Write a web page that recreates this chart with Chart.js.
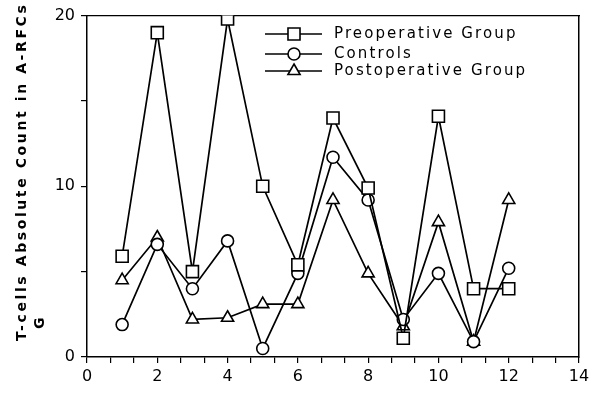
<!DOCTYPE html>
<html>
<head>
<meta charset="utf-8">
<script src="https://cdn.jsdelivr.net/npm/chart.js@4"></script>
<style>
  html, body { margin:0; padding:0; background:#fff; }
  #wrap { width:595px; height:396px; }
</style>
</head>
<body>
<div id="wrap"><canvas id="chart" width="595" height="396"></canvas></div>
<script>
// data
const xs            = [1, 2, 3, 4, 5, 6, 7, 8, 9, 10, 11, 12];
const preoperative  = [5.9, 19.0, 5.0, 19.8, 10.0, 5.4, 14.0, 9.9, 1.1, 14.1, 4.0, 4.0];
const controls      = [1.9, 6.6, 4.0, 6.8, 0.5, 4.9, 11.7, 9.2, 2.2, 4.9, 0.9, 5.2];
const postoperative = [4.5, 7.0, 2.2, 2.3, 3.1, 3.1, 9.2, 4.9, 1.8, 7.9, 0.9, 9.2];
const seriesNames   = ["Preoperative Group", "Controls", "Postoperative Group"];
const xLabelTicks   = [0, 2, 4, 6, 8, 10, 12, 14];
const yLabelTicks   = [0, 10, 20];
const yTitle        = "T-cells Absolute Count in A-RFCs";
const yTitle2       = "G";

const FONT = "'DejaVu Sans', sans-serif";
const pts = arr => arr.map((v, i) => ({ x: xs[i], y: v }));

function ds(label, data, style, radius) {
  return {
    label, data: pts(data),
    borderColor: "#000", borderWidth: 1.7,
    pointStyle: style, pointRadius: radius,
    pointBackgroundColor: "#fff", pointBorderColor: "#000", pointBorderWidth: 1.6,
    tension: 0, fill: false
  };
}

// y title + legend drawn on top of the canvas
const extras = {
  id: "extras",
  afterDraw(chart) {
    const ctx = chart.ctx;
    ctx.save();
    ctx.fillStyle = "#000";
    ctx.font = "bold 14px " + FONT;
    if ("letterSpacing" in ctx) ctx.letterSpacing = "2.6px";
    ctx.translate(22, 341);
    ctx.rotate(-Math.PI / 2);
    ctx.textAlign = "left";
    ctx.textBaseline = "middle";
    ctx.fillText(yTitle, 0, 0);
    ctx.fillText(yTitle2, 12, 18);
    ctx.restore();

    // legend
    ctx.save();
    ctx.font = "15px " + FONT;
    if ("letterSpacing" in ctx) ctx.letterSpacing = "2.1px";
    ctx.textBaseline = "middle";
    const rows = [34, 54, 71];
    chart.data.datasets.forEach((d, i) => {
      const y = rows[i];
      ctx.strokeStyle = "#000";
      ctx.lineWidth = 1.4;
      ctx.beginPath(); ctx.moveTo(265, y); ctx.lineTo(322, y); ctx.stroke();
      ctx.fillStyle = "#fff";
      ctx.lineWidth = 1.6;
      Chart.helpers.drawPoint(ctx, { pointStyle: d.pointStyle, radius: d.pointRadius, borderWidth: 1.6, rotation: 0 }, 294, y);
      ctx.fillStyle = "#000";
      ctx.fillText(seriesNames[i], 334, y);
    });
    ctx.restore();
  }
};

new Chart(document.getElementById("chart"), {
  type: "line",
  data: {
    datasets: [
      ds(seriesNames[0], preoperative, "rect", 8.5),
      ds(seriesNames[1], controls, "circle", 6),
      ds(seriesNames[2], postoperative, "triangle", 7)
    ]
  },
  options: {
    responsive: false,
    animation: false,
    layout: { padding: { left: 0, right: 16, top: 12, bottom: 0 } },
    plugins: { legend: { display: false }, tooltip: { enabled: false } },
    scales: {
      x: {
        type: "linear", min: 0, max: 14,
        afterBuildTicks: s => {
          const t = [];
          for (let k = 0; k <= 21; k++) t.push({ value: k * 2 / 3 });
          s.ticks = t;
        },
        afterFit: s => { s.height = 39; },
        border: { color: "#000", width: 1.5 },
        grid: { drawOnChartArea: false, color: "#000", tickLength: 6, lineWidth: 1.2 },
        ticks: {
          color: "#000", font: { family: FONT, size: 16 }, padding: 4, maxRotation: 0, autoSkip: false,
          callback: v => {
            const r = Math.round(v);
            return Math.abs(v - r) < 1e-6 && xLabelTicks.includes(r) ? String(r) : "";
          }
        }
      },
      y: {
        min: 0, max: 20,
        afterBuildTicks: s => { s.ticks = [0, 5, 10, 15, 20].map(v => ({ value: v })); },
        afterFit: s => { s.width = 87; },
        border: { color: "#000", width: 1.5 },
        grid: { drawOnChartArea: false, color: "#000", tickLength: 6, lineWidth: 1.2 },
        ticks: {
          color: "#000", font: { family: FONT, size: 16 }, padding: 6,
          callback: v => yLabelTicks.includes(v) ? String(v) : ""
        }
      },
      x2: {
        type: "linear", position: "top", min: 0, max: 14,
        afterFit: s => { s.height = 0; },
        border: { color: "#000", width: 1.2 },
        grid: { display: false }, ticks: { display: false }
      },
      y2: {
        position: "right", min: 0, max: 20,
        afterFit: s => { s.width = 0; },
        border: { color: "#000", width: 1.5 },
        grid: { display: false }, ticks: { display: false }
      }
    }
  },
  plugins: [extras]
});
</script>
</body>
</html>
